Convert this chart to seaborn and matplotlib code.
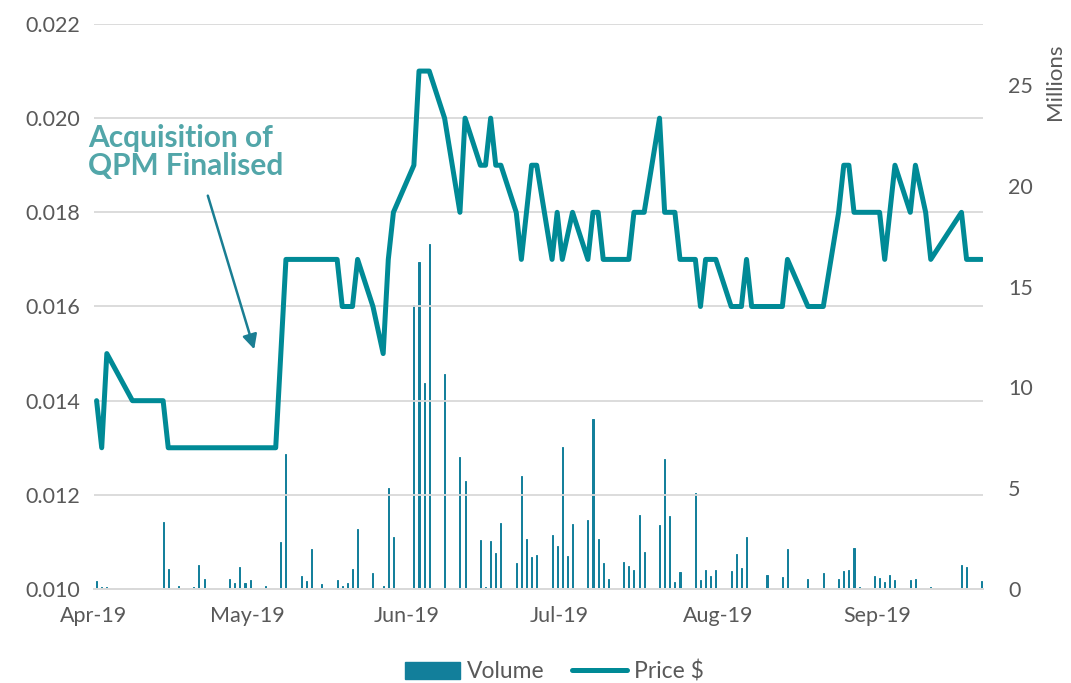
import pandas as pd
import matplotlib
matplotlib.use("Agg")
import matplotlib.pyplot as plt
from matplotlib.patches import Patch
from matplotlib.lines import Line2D
import seaborn as sns

# share price, $ (turning points of the line)
price_dates = ["2019-04-03", "2019-04-04", "2019-04-05", "2019-04-10", "2019-04-16", "2019-04-17",
               "2019-05-08", "2019-05-10", "2019-05-20", "2019-05-21", "2019-05-23", "2019-05-24",
               "2019-05-27", "2019-05-29", "2019-05-30", "2019-05-31", "2019-06-04", "2019-06-05",
               "2019-06-07", "2019-06-10", "2019-06-13", "2019-06-14", "2019-06-17", "2019-06-18",
               "2019-06-19", "2019-06-20", "2019-06-21", "2019-06-24", "2019-06-25", "2019-06-27",
               "2019-06-28", "2019-07-01", "2019-07-02", "2019-07-03", "2019-07-05", "2019-07-08",
               "2019-07-09", "2019-07-10", "2019-07-11", "2019-07-16", "2019-07-17", "2019-07-19",
               "2019-07-22", "2019-07-23", "2019-07-25", "2019-07-26", "2019-07-29", "2019-07-30",
               "2019-07-31", "2019-08-02", "2019-08-05", "2019-08-07", "2019-08-08", "2019-08-09",
               "2019-08-15", "2019-08-16", "2019-08-20", "2019-08-23", "2019-08-26", "2019-08-27",
               "2019-08-28", "2019-08-29", "2019-09-03", "2019-09-04", "2019-09-06", "2019-09-09",
               "2019-09-10", "2019-09-12", "2019-09-13", "2019-09-19", "2019-09-20", "2019-09-23"]
price = [0.014, 0.013, 0.015, 0.014, 0.014, 0.013,
         0.013, 0.017, 0.017, 0.016, 0.016, 0.017,
         0.016, 0.015, 0.017, 0.018, 0.019, 0.021,
         0.021, 0.020, 0.018, 0.020, 0.019, 0.019,
         0.020, 0.019, 0.019, 0.018, 0.017, 0.019,
         0.019, 0.017, 0.018, 0.017, 0.018, 0.017,
         0.018, 0.018, 0.017, 0.017, 0.018, 0.018,
         0.020, 0.018, 0.018, 0.017, 0.017, 0.016,
         0.017, 0.017, 0.016, 0.016, 0.017, 0.016,
         0.016, 0.017, 0.016, 0.016, 0.018, 0.019,
         0.019, 0.018, 0.018, 0.017, 0.019, 0.018,
         0.019, 0.018, 0.017, 0.018, 0.017, 0.017]

# traded volume, millions of shares
vol_dates = ["2019-04-03", "2019-04-04", "2019-04-05", "2019-04-10", "2019-04-16", "2019-04-17",
             "2019-04-19", "2019-04-22", "2019-04-23", "2019-04-24", "2019-04-29", "2019-04-30",
             "2019-05-01", "2019-05-02", "2019-05-03", "2019-05-06", "2019-05-09", "2019-05-10",
             "2019-05-13", "2019-05-14", "2019-05-15", "2019-05-17", "2019-05-20", "2019-05-21",
             "2019-05-22", "2019-05-23", "2019-05-24", "2019-05-27", "2019-05-29", "2019-05-30",
             "2019-05-31", "2019-06-04", "2019-06-05", "2019-06-06", "2019-06-07", "2019-06-10",
             "2019-06-13", "2019-06-14", "2019-06-17", "2019-06-18", "2019-06-19", "2019-06-20",
             "2019-06-21", "2019-06-24", "2019-06-25", "2019-06-26", "2019-06-27", "2019-06-28",
             "2019-07-01", "2019-07-02", "2019-07-03", "2019-07-04", "2019-07-05", "2019-07-08",
             "2019-07-09", "2019-07-10", "2019-07-11", "2019-07-12", "2019-07-15", "2019-07-16",
             "2019-07-17", "2019-07-18", "2019-07-19", "2019-07-22", "2019-07-23", "2019-07-24",
             "2019-07-25", "2019-07-26", "2019-07-29", "2019-07-30", "2019-07-31", "2019-08-01",
             "2019-08-02", "2019-08-05", "2019-08-06", "2019-08-07", "2019-08-08", "2019-08-09",
             "2019-08-12", "2019-08-15", "2019-08-16", "2019-08-20", "2019-08-23", "2019-08-26",
             "2019-08-27", "2019-08-28", "2019-08-29", "2019-08-30", "2019-09-02", "2019-09-03",
             "2019-09-04", "2019-09-05", "2019-09-06", "2019-09-09", "2019-09-10", "2019-09-13",
             "2019-09-19", "2019-09-20", "2019-09-23"]
volume = [0.40, 0.10, 0.08, 0.03, 3.30, 1.00,
          0.15, 0.08, 1.20, 0.50, 0.50, 0.30,
          1.10, 0.30, 0.45, 0.15, 2.35, 6.70,
          0.66, 0.40, 2.00, 0.25, 0.45, 0.15,
          0.30, 1.00, 3.00, 0.80, 0.15, 5.00,
          2.60, 14.1, 16.2, 10.2, 17.1, 10.65,
          6.56, 5.36, 2.43, 0.08, 2.40, 1.77,
          3.26, 1.29, 5.60, 2.50, 1.60, 1.70,
          2.68, 2.13, 7.06, 1.64, 3.22, 3.42,
          8.45, 2.48, 1.29, 0.48, 1.32, 1.14,
          0.93, 3.65, 1.82, 3.17, 6.46, 3.62,
          0.33, 0.84, 4.77, 0.45, 0.93, 0.65,
          0.93, 0.88, 1.72, 1.06, 2.60, 0.03,
          0.68, 0.62, 1.99, 0.50, 0.81, 0.50,
          0.90, 0.93, 2.02, 0.10, 0.66, 0.55,
          0.35, 0.72, 0.43, 0.43, 0.52, 0.10,
          1.20, 1.10, 0.38]

month_labels = ["Apr-19", "May-19", "Jun-19", "Jul-19", "Aug-19", "Sep-19"]

line_color = "#008A96"
bar_color = "#127F9B"
grey = "#595959"

sns.set_theme(style="white")
plt.rcParams["font.family"] = ["Lato", "DejaVu Sans"]

fig = plt.figure(figsize=(10.71, 6.83), dpi=100)
ax = fig.add_axes([0.0878, 0.1376, 0.830, 0.8273])
ax2 = ax.twinx()
ax.set_zorder(ax2.get_zorder() + 1)
ax.patch.set_visible(False)

px = pd.to_datetime(price_dates)
vx = pd.to_datetime(vol_dates)

ax2.bar(vx, volume, width=0.2, color=bar_color, edgecolor=bar_color, linewidth=0.7)
sns.lineplot(x=px, y=price, ax=ax, color=line_color, lw=3.6,
             solid_joinstyle="round", solid_capstyle="round")

start = pd.Timestamp("2019-04-02 12:00")
ax.set_xlim(start, start + pd.Timedelta(days=173.7))
ticks = [start + pd.DateOffset(months=i) for i in range(6)]
ax.set_xticks(ticks)
ax.set_xticklabels(month_labels)

ax.set_ylim(0.010, 0.022)
ax.set_yticks([0.010, 0.012, 0.014, 0.016, 0.018, 0.020, 0.022])
ax.set_yticklabels([f"{v:.3f}" for v in ax.get_yticks()])
ax2.set_ylim(0, 28.03)
ax2.set_yticks([0, 5, 10, 15, 20, 25])
ax.set_xlabel("")
ax.set_ylabel("")

ax.yaxis.grid(True, color="#D9D9D9", lw=1.3)
ax.xaxis.grid(False)
for a in (ax, ax2):
    for s in ("top", "left", "right"):
        a.spines[s].set_visible(False)
    a.spines["bottom"].set_color("#D9D9D9")
    a.spines["bottom"].set_linewidth(1.3)
ax.tick_params(axis="x", direction="out", length=6, width=1.3, color="#D9D9D9",
               labelsize=15.5, labelcolor=grey, pad=6)
ax.tick_params(axis="y", length=0, labelsize=15.5, labelcolor=grey, pad=10)
ax2.tick_params(axis="y", length=0, labelsize=15.5, labelcolor=grey, pad=18)

fig.text(0.985, 0.881, "Millions", rotation=90, ha="center", va="center",
         fontsize=16, color=grey)

ax.annotate("", xy=(0.1811, 0.4195), xytext=(0.1271, 0.7009),
            xycoords="axes fraction", textcoords="axes fraction",
            arrowprops=dict(arrowstyle="-|>", color="#1A7E93", lw=1.8,
                            mutation_scale=22))
fig.text(0.082, 0.818, "Acquisition of\nQPM Finalised", ha="left", va="top",
         fontsize=21.5, fontweight="bold", color="#52A6A9", linespacing=1.0)

handles = [Patch(color=bar_color, label="Volume"),
           Line2D([0], [0], color=line_color, lw=3.6, solid_capstyle="round", label="Price $")]
fig.legend(handles=handles, loc="center", bbox_to_anchor=(0.518, 0.017), ncol=2,
           frameon=False, fontsize=16.5, labelcolor=grey, handlelength=2.4,
           handleheight=0.75, handletextpad=0.3, columnspacing=1.2)

fig.savefig("out.png", dpi=100)
